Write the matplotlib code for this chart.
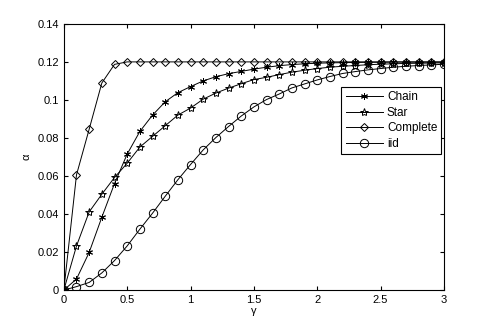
import numpy as np
import matplotlib
matplotlib.use("Agg")
import matplotlib.pyplot as plt
from matplotlib.ticker import FuncFormatter

gamma = [round(0.1 * i, 1) for i in range(31)]

chain = [0, 0.0058, 0.0198, 0.0383, 0.056, 0.0715, 0.0834, 0.092, 0.099, 0.1038,
         0.107, 0.110, 0.1122, 0.1138, 0.115, 0.1162, 0.1172, 0.118, 0.1186, 0.119,
         0.1193, 0.1195, 0.1196, 0.1197, 0.1198, 0.1198, 0.1199, 0.1199, 0.1199, 0.1199, 0.1199]
star = [0, 0.0232, 0.0411, 0.0504, 0.0592, 0.0667, 0.0752, 0.0808, 0.0864, 0.092,
        0.0957, 0.1004, 0.1036, 0.1062, 0.1085, 0.1107, 0.1119, 0.1133, 0.1146, 0.1156,
        0.1165, 0.1172, 0.1177, 0.1181, 0.1185, 0.1188, 0.119, 0.1192, 0.1193, 0.1194, 0.1195]
complete = [0, 0.0606, 0.0846, 0.1089, 0.1187] + [0.12] * 26
iid = [0, 0.0018, 0.004, 0.009, 0.0155, 0.0232, 0.032, 0.0404, 0.0493, 0.058,
       0.066, 0.0737, 0.0802, 0.086, 0.0915, 0.0963, 0.1002, 0.1031, 0.1063, 0.1084,
       0.1105, 0.1123, 0.1139, 0.1149, 0.1158, 0.1165, 0.1172, 0.1177, 0.1181, 0.1184, 0.1188]

plt.rcParams['font.family'] = ['Liberation Sans', 'DejaVu Sans']

fig = plt.figure(figsize=(4.91, 3.27), dpi=100)
ax = fig.add_axes([0.130, 0.113, 0.774, 0.814])

lw = 0.7
ms = 5
ax.plot(gamma, chain, color='k', lw=lw, marker=(6, 2, 0), ms=ms, mew=0.7, label='Chain')
ax.plot(gamma, star, color='k', lw=lw, marker='*', ms=ms + 1, mfc='none', mew=0.7, label='Star')
ax.plot(gamma, complete, color='k', lw=lw, marker='D', ms=ms - 1, mfc='none', mew=0.7, label='Complete')
ax.plot(gamma, iid, color='k', lw=lw, marker='o', ms=ms + 1, mfc='none', mew=0.7, label='iid')

ax.set_xlim(0, 3)
ax.set_ylim(0, 0.14)
ax.set_xticks(np.arange(0, 3.01, 0.5))
ax.set_yticks(np.arange(0, 0.141, 0.02))
ax.xaxis.set_major_formatter(FuncFormatter(lambda v, p: f"{v:g}"))
ax.yaxis.set_major_formatter(FuncFormatter(lambda v, p: f"{round(v, 2):g}"))
ax.tick_params(direction='in', top=True, right=True, labelsize=8, length=3)
for s in ax.spines.values():
    s.set_linewidth(0.8)

ax.set_xlabel('γ', fontsize=8, labelpad=1)
ax.set_ylabel('α', fontsize=8, labelpad=4)

leg = ax.legend(loc='upper left', bbox_to_anchor=(0.715, 0.785), fontsize=8.5,
                fancybox=False, framealpha=1, edgecolor='k', borderpad=0.35,
                labelspacing=0.3, handlelength=3.2, handletextpad=0.3)
leg.get_frame().set_linewidth(0.8)

fig.savefig('out.png', dpi=100)
